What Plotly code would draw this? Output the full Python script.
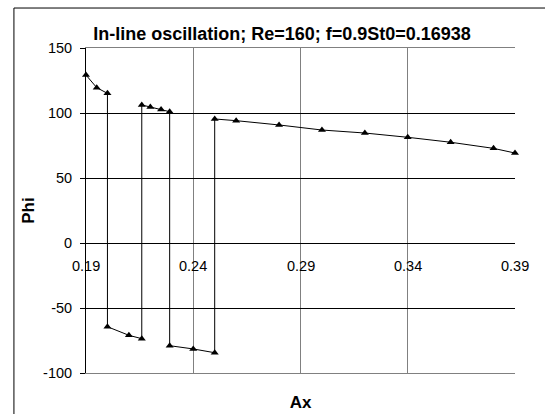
import plotly.graph_objects as go

ax = [0.19, 0.195, 0.20, 0.20, 0.21, 0.216, 0.216, 0.22, 0.225, 0.229, 0.229,
      0.24, 0.25, 0.25, 0.26, 0.28, 0.30, 0.32, 0.34, 0.36, 0.38, 0.39]
phi = [129.2, 119.5, 115.1, -64.4, -71.0, -73.6, 106.2, 104.6, 102.6, 101.0, -79.0,
       -81.5, -84.4, 95.4, 94.1, 90.8, 86.9, 84.6, 81.3, 77.5, 72.8, 69.2]
x_ticks = [0.19, 0.24, 0.29, 0.34, 0.39]
x_tick_labels = ["0.19", "0.24", "0.29", "0.34", "0.39"]
y_ticks = [-100, -50, 0, 50, 100, 150]
y_tick_labels = ["-100", "-50", "0", "50", "100", "150"]

FONT = "Liberation Sans, Arial, sans-serif"
TICK = 14.5

fig = go.Figure()
fig.add_trace(go.Scatter(
    x=ax, y=phi, mode="lines+markers",
    line=dict(color="black", width=1),
    marker=dict(symbol="triangle-up", size=7, color="black"),
    showlegend=False, cliponaxis=False,
))

for v, t in zip(x_ticks, x_tick_labels):
    fig.add_annotation(x=v, y=0, xref="x", yref="y", text=t, showarrow=False,
                       yshift=-23, font=dict(family=FONT, size=TICK, color="black"))

fig.add_shape(type="rect", xref="paper", yref="paper",
              x0=-0.168, y0=-0.4, x1=1.3, y1=1.123,
              line=dict(color="black", width=1), layer="below")

fig.update_layout(
    width=545, height=414,
    margin=dict(l=86, r=30, t=48, b=41),
    paper_bgcolor="white", plot_bgcolor="white",
    font=dict(family=FONT, size=TICK, color="black"),
    title=dict(text="<b>In-line oscillation; Re=160; f=0.9St0=0.16938</b>",
               x=282 / 545, xanchor="center", y=1 - 34 / 414, yanchor="middle",
               font=dict(family=FONT, size=18, color="black")),
    xaxis=dict(range=[0.19, 0.39], tickvals=x_ticks, showticklabels=False,
               automargin=False,
               showgrid=True, gridcolor="#808080", gridwidth=1,
               showline=True, linecolor="#808080", linewidth=1, mirror=True,
               zeroline=False, ticks="",
               title=dict(text="<b>Ax</b>", standoff=23,
                          font=dict(family=FONT, size=17, color="black"))),
    yaxis=dict(range=[-100, 150], tickvals=y_ticks, ticktext=y_tick_labels,
               automargin=False,
               showgrid=True, gridcolor="black", gridwidth=1,
               showline=True, linecolor="black", linewidth=1,
               zeroline=True, zerolinecolor="black", zerolinewidth=1,
               ticks="outside", ticklen=5, tickcolor="black",
               ticklabelstandoff=5,
               tickfont=dict(family=FONT, size=TICK, color="black"),
               title=dict(text="<b>Phi</b>", standoff=4,
                          font=dict(family=FONT, size=17, color="black"))),
)

fig.write_html("out.html")
